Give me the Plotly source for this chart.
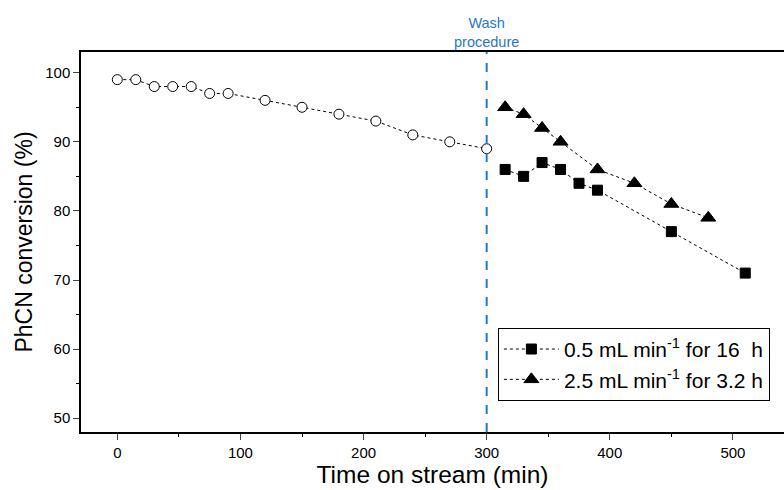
import plotly.graph_objects as go

# Data
t_before = [0, 15, 30, 45, 60, 75, 90, 120, 150, 180, 210, 240, 270, 300]
conv_before = [99, 99, 98, 98, 98, 97, 97, 96, 95, 94, 93, 91, 90, 89]

t_slow = [315, 330, 345, 360, 375, 390, 450, 510]
conv_slow = [86, 85, 87, 86, 84, 83, 77, 71]

t_fast = [315, 330, 345, 360, 390, 420, 450, 480]
conv_fast = [95, 94, 92, 90, 86, 84, 81, 79]

wash_time = 300
x_ticks = [0, 100, 200, 300, 400, 500]
y_ticks = [50, 60, 70, 80, 90, 100]

FONT = "Arial, Liberation Sans, sans-serif"
LINE = dict(color="black", width=1, dash="dot")

fig = go.Figure()
fig.add_trace(go.Scatter(
    x=t_before, y=conv_before, mode="lines+markers", line=LINE,
    marker=dict(symbol="circle", size=10, color="white", line=dict(color="black", width=1)),
    showlegend=False))
fig.add_trace(go.Scatter(
    x=t_slow, y=conv_slow, mode="lines+markers", line=LINE,
    marker=dict(symbol="square", size=10, color="black", line=dict(color="black", width=1)),
    name="0.5 mL min<sup>-1</sup> for 16  h"))
fig.add_trace(go.Scatter(
    x=t_fast, y=conv_fast, mode="lines+markers", line=LINE,
    marker=dict(symbol="triangle-up", size=13, color="black", line=dict(color="black", width=1)),
    name="2.5 mL min<sup>-1</sup> for 3.2 h"))

fig.add_shape(type="line", x0=wash_time, x1=wash_time, y0=0, y1=1, xref="x", yref="paper",
              line=dict(color="#1f78d6", width=2, dash="dash"))
fig.add_annotation(x=wash_time, y=1, xref="x", yref="paper", yanchor="bottom", yshift=0,
                   text="Wash<br>procedure", showarrow=False,
                   font=dict(family="Liberation Sans Narrow, Arial, sans-serif", size=14.5, color="#1f78d6"))

fig.update_layout(
    width=784, height=490,
    margin=dict(l=81, r=0, t=52, b=58),
    paper_bgcolor="white", plot_bgcolor="white",
    font=dict(family=FONT, color="black"),
    legend=dict(x=0.593, y=0.274, xanchor="left", yanchor="top",
                bordercolor="black", borderwidth=1, bgcolor="white",
                font=dict(size=21, family=FONT), tracegroupgap=0,
                itemsizing="trace", itemwidth=55),
)
fig.update_xaxes(
    range=[-29.5, 541.5], tickvals=x_ticks, ticks="outside", ticklen=6, tickwidth=1,
    showline=True, linecolor="black", linewidth=1.5, mirror=True, showgrid=False, zeroline=False,
    tickfont=dict(size=15, family=FONT),
    minor=dict(tickvals=[50, 150, 250, 350, 450], ticks="outside", ticklen=3, tickcolor="black"),
    title=dict(text="Time on stream (min)", font=dict(size=24.5, family=FONT), standoff=6),
)
fig.update_yaxes(
    range=[48, 103], tickvals=y_ticks, ticks="outside", ticklen=6, tickwidth=1,
    showline=True, linecolor="black", linewidth=1.5, mirror=False, showgrid=False, zeroline=False,
    tickfont=dict(size=15, family=FONT),
    minor=dict(tickvals=[55, 65, 75, 85, 95], ticks="outside", ticklen=3, tickcolor="black"),
    title=dict(text="PhCN conversion (%)", font=dict(size=23, family=FONT), standoff=6),
)

fig.write_html("out.html")
